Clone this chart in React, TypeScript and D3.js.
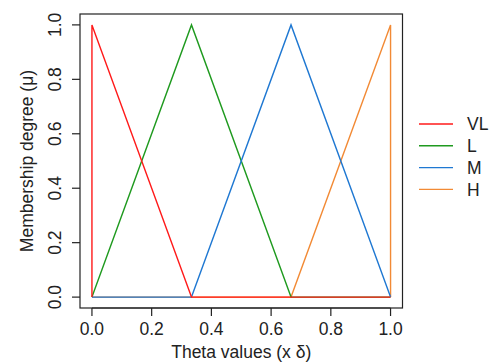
import * as d3 from 'd3';

const thetaTicks = [0, 0.2, 0.4, 0.6, 0.8, 1.0];
const muTicks = [0, 0.2, 0.4, 0.6, 0.8, 1.0];

// membership functions (x in units of delta)
const hX = [0, 2 / 3, 1, 1];
const hY = [0, 0, 1, 0];
const lX = [0, 1 / 3, 2 / 3, 1];
const lY = [0, 1, 0, 0];
const mX = [0, 1 / 3, 2 / 3, 1];
const mY = [0, 0, 1, 0];
const vlX = [0, 0, 1 / 3, 1];
const vlY = [0, 1, 0, 0];

const legendNames = ['VL', 'L', 'M', 'H'];
const legendColors = ['#ff1a1a', '#1f9a1f', '#1f78d2', '#f28a35'];

// draw order: H first, VL last (VL sits on top)
const series = [
  { name: 'H', xs: hX, ys: hY, color: '#f28a35' },
  { name: 'L', xs: lX, ys: lY, color: '#1f9a1f' },
  { name: 'M', xs: mX, ys: mY, color: '#1f78d2' },
  { name: 'VL', xs: vlX, ys: vlY, color: '#ff1a1a' },
];

export default function App() {
  const W = 491;
  const H = 363;
  const box = { left: 80, top: 14, right: 402.5, bottom: 308 };

  // R-style 4% axis extension
  const x = d3.scaleLinear().domain([-0.04, 1.04]).range([box.left, box.right]);
  const y = d3.scaleLinear().domain([-0.04, 1.04]).range([box.bottom, box.top]);

  const line = d3.line<[number, number]>()
    .x(d => x(d[0]))
    .y(d => y(d[1]));

  const font = '"Liberation Sans", Arial, Helvetica, sans-serif';
  const fs = 17.5;

  return (
    <svg width={W} height={H} style={{ position: 'absolute', left: 0, top: 0, background: '#fff' }}
      fontFamily={font}>
      {series.map(s => (
        <path key={s.name}
          d={line(s.xs.map((v, i) => [v, s.ys[i]] as [number, number])) || ''}
          fill="none" stroke={s.color} strokeWidth={1.4} />
      ))}

      <rect x={box.left} y={box.top} width={box.right - box.left} height={box.bottom - box.top}
        fill="none" stroke="#222" strokeWidth={1.2} />

      {/* x axis */}
      <line x1={x(0)} x2={x(1)} y1={box.bottom} y2={box.bottom} stroke="#222" strokeWidth={1.2} />
      {thetaTicks.map(t => (
        <g key={'x' + t}>
          <line x1={x(t)} x2={x(t)} y1={box.bottom} y2={box.bottom + 8} stroke="#222" strokeWidth={1.2} />
          <text x={x(t)} y={box.bottom + 27} textAnchor="middle" fontSize={fs} fill="#222">{t.toFixed(1)}</text>
        </g>
      ))}
      <text x={(box.left + box.right) / 2} y={358} textAnchor="middle" fontSize={fs} fill="#222">
        Theta values (x δ)
      </text>

      {/* y axis */}
      {muTicks.map(t => (
        <g key={'y' + t}>
          <line x1={box.left - 8} x2={box.left} y1={y(t)} y2={y(t)} stroke="#222" strokeWidth={1.2} />
          <text transform={`translate(${box.left - 19},${y(t)}) rotate(-90)`} textAnchor="middle"
            fontSize={fs} fill="#222">{t.toFixed(1)}</text>
        </g>
      ))}
      <text transform={`translate(33,${(box.top + box.bottom) / 2}) rotate(-90)`} textAnchor="middle"
        fontSize={fs} fill="#222">Membership degree (μ)</text>

      {/* legend */}
      {legendNames.map((n, i) => (
        <g key={n} transform={`translate(0,${124 + i * 21.8})`}>
          <line x1={419} x2={453} y1={0} y2={0} stroke={legendColors[i]} strokeWidth={1.4} />
          <text x={467} y={0} dy="0.36em" fontSize={fs} fill="#222">{n}</text>
        </g>
      ))}
    </svg>
  );
}
